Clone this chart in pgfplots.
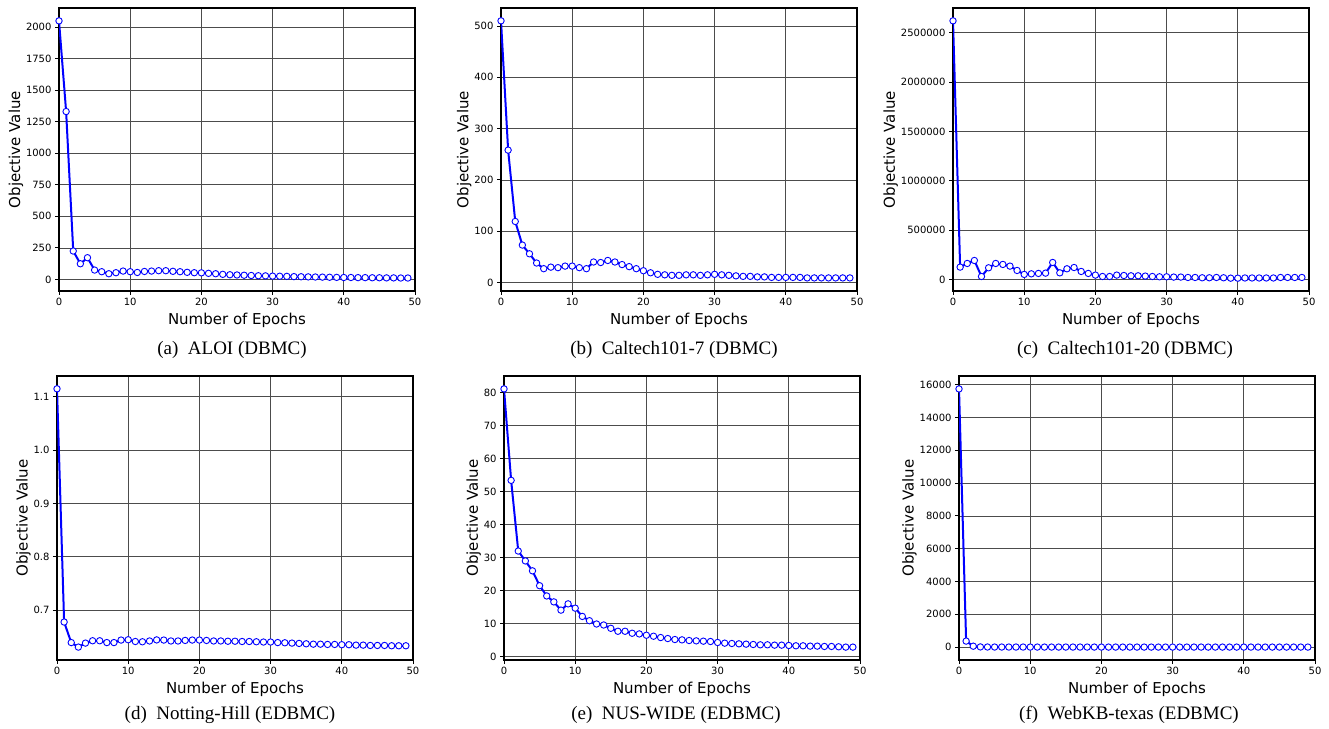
\documentclass[border=0pt]{standalone}
\usepackage{fontspec}
\setmainfont{DejaVu Sans}
\newfontfamily\capfont{Liberation Serif}
\usepackage{pgfplots}
\pgfplotsset{compat=1.18}

\pgfplotsset{
  objstyle/.style={
    anchor=south west, scale only axis,
    width=356pt, height=283pt,
    xmin=0, xmax=50, xtick={0,10,...,50},
    grid=major, grid style={black!70, line width=0.7pt},
    axis line style={line width=1.2pt},
    tick align=outside, tick pos=left, major tick length=4pt,
    tick style={black, line width=0.8pt},
    tick label style={font=\fontsize{10}{12}\selectfont},
    label style={font=\fontsize{15}{18}\selectfont},
    xlabel={Number of Epochs}, ylabel={Objective Value},
    ylabel shift=-4pt,
    scaled y ticks=false,
    /pgf/number format/assume math mode=true,
    /pgf/number format/1000 sep={},
  },
  objline/.style={blue, line width=2pt, mark=*, mark size=3.2pt,
    mark options={fill=white, draw=blue, line width=0.9pt}},
}
\newcommand{\subcap}[1]{\capfont\fontsize{19}{22}\selectfont #1}

\begin{document}
\begin{tikzpicture}
\useasboundingbox (0pt,0pt) rectangle (1329pt,728pt);

% (a) ALOI
\begin{axis}[objstyle, at={(59pt,437pt)}, ymin=-92, ymax=2152, ytick={0,250,...,2000}]
\addplot[objline] coordinates {
(0,2050) (1,1331) (2,225) (3,124) (4,172) (5,74) (6,61) (7,45) (8,53) (9,66)
(10,61) (11,55) (12,63) (13,66) (14,69) (15,69) (16,64) (17,61) (18,56) (19,53)
(20,52) (21,48) (22,45) (23,40) (24,37) (25,35) (26,33) (27,31) (28,29) (29,28)
(30,26) (31,25) (32,24) (33,22) (34,21) (35,20) (36,19) (37,18) (38,17) (39,16)
(40,15) (41,15) (42,14) (43,14) (44,13) (45,13) (46,12) (47,12) (48,11) (49,11)
};
\end{axis}

% (b) Caltech101-7
\begin{axis}[objstyle, at={(501pt,437pt)}, ymin=-16.5, ymax=535, ytick={0,100,...,500}]
\addplot[objline] coordinates {
(0,510) (1,258) (2,119) (3,73) (4,56) (5,38) (6,27) (7,30) (8,29) (9,32)
(10,32) (11,29) (12,27) (13,40) (14,39) (15,43) (16,40) (17,35) (18,31) (19,27)
(20,23) (21,19) (22,16) (23,15) (24,14) (25,14) (26,15) (27,15) (28,14) (29,15)
(30,16) (31,15) (32,14) (33,13) (34,12) (35,12) (36,11) (37,11) (38,10) (39,10)
(40,10) (41,10) (42,10) (43,9) (44,9) (45,9) (46,9) (47,9) (48,9) (49,9)
};
\end{axis}

% (c) Caltech101-20
\begin{axis}[objstyle, at={(953pt,437pt)}, ymin=-117000, ymax=2750000,
  ytick={0,500000,1000000,1500000,2000000,2500000},
  yticklabel style={/pgf/number format/fixed}]
\addplot[objline] coordinates {
(0,2620000) (1,125000) (2,162000) (3,192000) (4,30000) (5,118000) (6,162000) (7,152000) (8,135000) (9,91000)
(10,51000) (11,57000) (12,61000) (13,64000) (14,172000) (15,67000) (16,108000) (17,121000) (18,81000) (19,61000)
(20,44000) (21,30000) (22,30000) (23,44000) (24,40000) (25,37000) (26,37000) (27,34000) (28,30000) (29,27000)
(30,27000) (31,24000) (32,24000) (33,20000) (34,20000) (35,17000) (36,17000) (37,20000) (38,17000) (39,13000)
(40,13000) (41,15000) (42,15000) (43,15000) (44,15000) (45,15000) (46,20000) (47,20000) (48,20000) (49,20000)
};
\end{axis}

% (d) Notting-Hill
\begin{axis}[objstyle, at={(57pt,68pt)}, height=284pt, ymin=0.6063, ymax=1.139,
  ytick={0.7,0.8,0.9,1.0,1.1},
  yticklabel style={/pgf/number format/fixed, /pgf/number format/fixed zerofill, /pgf/number format/precision=1}]
\addplot[objline] coordinates {
(0,1.115) (1,0.6775) (2,0.639) (3,0.6305) (4,0.638) (5,0.6424) (6,0.6424) (7,0.639) (8,0.639) (9,0.6437)
(10,0.6443) (11,0.641) (12,0.6405) (13,0.642) (14,0.644) (15,0.6437) (16,0.642) (17,0.642) (18,0.643) (19,0.6437)
(20,0.6437) (21,0.643) (22,0.642) (23,0.642) (24,0.6415) (25,0.6415) (26,0.641) (27,0.641) (28,0.6405) (29,0.640)
(30,0.640) (31,0.639) (32,0.6386) (33,0.638) (34,0.6374) (35,0.6367) (36,0.636) (37,0.636) (38,0.6355) (39,0.6355)
(40,0.635) (41,0.635) (42,0.6342) (43,0.6342) (44,0.6336) (45,0.6336) (46,0.6336) (47,0.633) (48,0.633) (49,0.633)
};
\end{axis}

% (e) NUS-WIDE
\begin{axis}[objstyle, at={(504pt,68pt)}, height=284pt, ymin=-1, ymax=85, ytick={0,10,...,80}]
\addplot[objline] coordinates {
(0,81.1) (1,53.4) (2,32.0) (3,29.0) (4,26.0) (5,21.5) (6,18.4) (7,16.6) (8,14.1) (9,16.0)
(10,14.7) (11,12.2) (12,10.9) (13,9.9) (14,9.6) (15,8.6) (16,7.7) (17,7.7) (18,7.1) (19,6.9)
(20,6.5) (21,6.2) (22,5.8) (23,5.5) (24,5.2) (25,5.1) (26,4.9) (27,4.8) (28,4.7) (29,4.6)
(30,4.3) (31,4.1) (32,4.0) (33,3.9) (34,3.8) (35,3.7) (36,3.6) (37,3.6) (38,3.5) (39,3.5)
(40,3.4) (41,3.3) (42,3.3) (43,3.2) (44,3.2) (45,3.1) (46,3.1) (47,3.0) (48,2.9) (49,2.9)
};
\end{axis}

% (f) WebKB-texas
\begin{axis}[objstyle, at={(959pt,68pt)}, height=284pt, ymin=-782, ymax=16523, ytick={0,2000,...,16000}]
\addplot[objline] coordinates {
(0,15736) (1,370) (2,60) (3,15) (4,10) (5,8) (6,8) (7,7) (8,7) (9,7)
(10,6) (11,6) (12,6) (13,6) (14,6) (15,6) (16,6) (17,6) (18,6) (19,6)
(20,5) (21,5) (22,5) (23,5) (24,5) (25,5) (26,5) (27,5) (28,5) (29,5)
(30,5) (31,5) (32,5) (33,5) (34,5) (35,5) (36,5) (37,5) (38,5) (39,5)
(40,5) (41,5) (42,5) (43,5) (44,5) (45,5) (46,5) (47,5) (48,5) (49,5)
};
\end{axis}

% captions
\node at (232pt,378pt) {\subcap{(a)\ \ ALOI (DBMC)}};
\node at (674pt,378pt) {\subcap{(b)\ \ Caltech101-7 (DBMC)}};
\node at (1125pt,378pt) {\subcap{(c)\ \ Caltech101-20 (DBMC)}};
\node at (230pt,13pt) {\subcap{(d)\ \ Notting-Hill (EDBMC)}};
\node at (676pt,13pt) {\subcap{(e)\ \ NUS-WIDE (EDBMC)}};
\node at (1129pt,13pt) {\subcap{(f)\ \ WebKB-texas (EDBMC)}};
\end{tikzpicture}
\end{document}
